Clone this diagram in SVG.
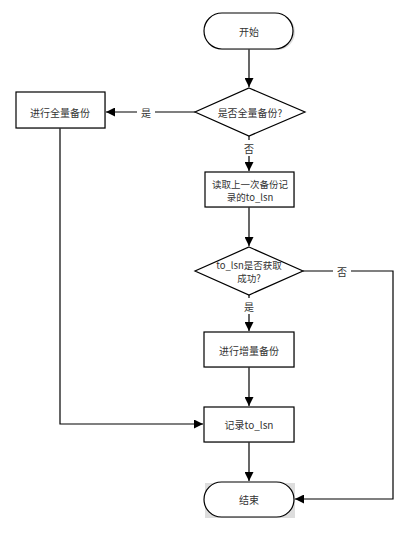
<svg xmlns="http://www.w3.org/2000/svg" width="404" height="534" viewBox="0 0 404 534">
<style>
.shape{fill:#fff;stroke:#000;stroke-width:1.2}
.shadow{fill:#bbb;opacity:0.5}
.t{font-family:"Noto Sans CJK SC","Liberation Sans",sans-serif;font-size:10px;fill:#333;text-anchor:middle;dominant-baseline:central}
.t2{font-size:9.5px}
.c{fill:none;stroke:#000;stroke-width:1.2}
.lbl{fill:#fff}
</style>
<defs>
<marker id="ah" viewBox="0 0 10 10" refX="10" refY="5" markerWidth="9" markerHeight="9" markerUnits="userSpaceOnUse" orient="auto">
<path d="M0,0 L10,5 L0,10 Z" fill="#000"/>
</marker>
</defs>
<rect width="404" height="534" fill="#fff"/>
<g id="connectors">
<path class="c" d="M249,49 V87" marker-end="url(#ah)"/>
<path class="c" d="M195,112 H106" marker-end="url(#ah)"/>
<rect class="lbl" x="137" y="104" width="18" height="16"/>
<text class="t" x="146" y="112">是</text>
<path class="c" d="M249,136 V171" marker-end="url(#ah)"/>
<rect class="lbl" x="240" y="140" width="18" height="16"/>
<text class="t" x="249" y="148">否</text>
<path class="c" d="M249,207 V246" marker-end="url(#ah)"/>
<path class="c" d="M303,271 H393 V499 H295" marker-end="url(#ah)"/>
<rect class="lbl" x="333" y="263" width="18" height="16"/>
<text class="t" x="342" y="271">否</text>
<path class="c" d="M249,295 V331" marker-end="url(#ah)"/>
<rect class="lbl" x="240" y="298" width="18" height="16"/>
<text class="t" x="249" y="306">是</text>
<path class="c" d="M249,367 V406" marker-end="url(#ah)"/>
<path class="c" d="M60,128 V424 H203" marker-end="url(#ah)"/>
<path class="c" d="M249,442 V481" marker-end="url(#ah)"/>
</g>
<g id="start">
<rect class="shadow" x="205" y="14" width="90" height="36" rx="18"/>
<rect class="shape" x="204" y="13" width="89" height="36" rx="18"/>
<text class="t" x="249" y="31">开始</text>
</g>
<g id="decision1">
<polygon class="shape" points="249,88 305,112 249,136 195,112"/>
<text class="t" x="250" y="112">是否全量备份?</text>
</g>
<g id="fullbackup">
<rect class="shadow" x="17" y="93" width="89" height="36"/>
<rect class="shape" x="16" y="92" width="89" height="36"/>
<text class="t" x="60" y="112">进行全量备份</text>
</g>
<g id="readlsn">
<rect class="shadow" x="206" y="173" width="89" height="35"/>
<rect class="shape" x="205" y="172" width="89" height="35"/>
<text class="t t2" x="250" y="183.5">读取上一次备份记</text>
<text class="t t2" x="250" y="196.5">录的to_lsn</text>
</g>
<g id="decision2">
<polygon class="shape" points="249,247 303,271 249,295 195,271"/>
<text class="t t2" x="249" y="264.5">to_lsn是否获取</text>
<text class="t t2" x="249" y="278">成功?</text>
</g>
<g id="incbackup">
<rect class="shadow" x="205" y="333" width="90" height="35"/>
<rect class="shape" x="204" y="332" width="90" height="35"/>
<text class="t" x="249" y="350">进行增量备份</text>
</g>
<g id="record">
<rect class="shadow" x="205" y="408" width="90" height="35"/>
<rect class="shape" x="204" y="407" width="90" height="35"/>
<text class="t" x="249" y="424">记录to_lsn</text>
</g>
<g id="end">
<rect class="shadow" x="205" y="483" width="90" height="35"/>
<rect class="shape" x="204" y="482" width="90" height="35" rx="17.5"/>
<text class="t" x="249" y="499">结束</text>
</g>
</svg>
